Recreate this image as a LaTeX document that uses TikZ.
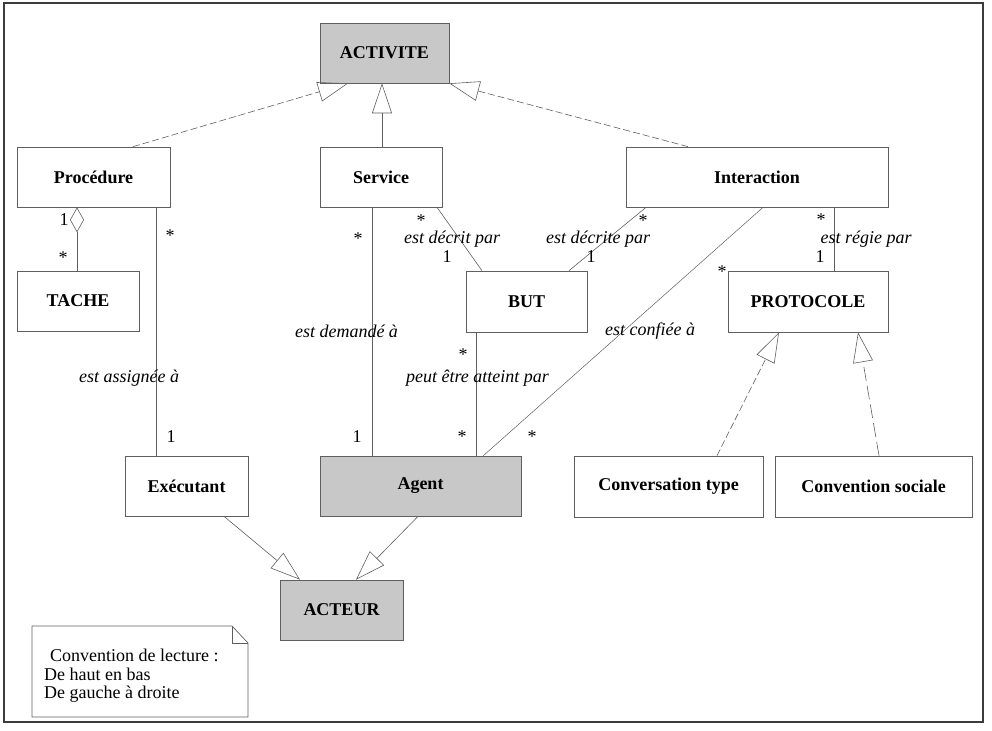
\documentclass[tikz,border=0pt]{standalone}
\usepackage{fontspec}
\setmainfont{Liberation Serif}
\usetikzlibrary{arrows.meta}
\definecolor{clsfill}{RGB}{200,200,200}
\definecolor{linecol}{RGB}{95,95,95}
\definecolor{framecol}{RGB}{60,60,60}

\begin{document}
\begin{tikzpicture}[x=1pt,y=-1pt,
  cls/.style={draw=linecol, line width=0.7pt, inner sep=0pt,
              font=\fontsize{18}{20}\selectfont\bfseries},
  abstract/.style={cls, fill=clsfill},
  role/.style={inner sep=0pt, font=\fontsize{18}{20}\selectfont\itshape},
  mult/.style={inner sep=0pt, font=\fontsize{18}{20}\selectfont},
  assoc/.style={draw=linecol, line width=0.6pt},
  inherit/.style={assoc, -{Triangle[open, length=30pt, width=20pt]}},
  realize/.style={inherit, dash pattern=on 7pt off 3pt},
  realizelong/.style={inherit, dash pattern=on 14pt off 5pt},
  aggreg/.style={assoc, -{Diamond[open, length=25pt, width=14pt]}},
]
\useasboundingbox (0,0) rectangle (992,730);
\draw[framecol, line width=1.5pt] (4,3) rectangle (983,722);

% classes
\node[abstract, minimum width=129pt, minimum height=60pt] (act) at (384.5,53) {ACTIVITE};
\node[cls, minimum width=153pt, minimum height=60pt] (proc) at (93.5,177) {Procédure};
\node[cls, minimum width=122pt, minimum height=60pt] (serv) at (381,177) {Service};
\node[cls, minimum width=262pt, minimum height=60pt] (inter) at (757,177) {Interaction};
\node[cls, minimum width=122pt, minimum height=60pt] (tache) at (78,301) {TACHE};
\node[cls, minimum width=121pt, minimum height=61pt] (but) at (526.5,301.5) {BUT};
\node[cls, minimum width=160pt, minimum height=61pt] (proto) at (808,301.5) {PROTOCOLE};
\node[cls, minimum width=123pt, minimum height=60pt] (exe) at (186.5,486) {Exécutant};
\node[abstract, minimum width=201pt, minimum height=60pt] (agent) at (420.5,486) {Agent};
\node[cls, minimum width=189pt, minimum height=61pt] (convt) at (668.5,486.5) {Conversation type};
\node[cls, minimum width=197pt, minimum height=61pt] (convs) at (873.5,486.5) {Convention sociale};
\node[abstract, minimum width=123pt, minimum height=60pt] (acteur) at (341.5,610) {ACTEUR};

% generalisations towards ACTIVITE
\draw[realize] ([xshift=39.5pt]proc.north) -- ([xshift=-36.5pt]act.south);
\draw[inherit] ([xshift=1pt]serv.north) -- ([xshift=1pt]serv.north |- act.south);
\draw[realize] ([xshift=-69pt]inter.north) -- (act.south east);

% generalisations towards ACTEUR
\draw[inherit] ([xshift=37.5pt]exe.south) -- ([xshift=-41.5pt]acteur.north);
\draw[inherit] ([xshift=-2.5pt]agent.south) -- ([xshift=14.5pt]acteur.north);

% generalisations towards PROTOCOLE
\draw[realize] ([xshift=48.5pt]convt.north) -- ([xshift=-29pt]proto.south);
\draw[realizelong] ([xshift=5.5pt]convs.north) -- ([xshift=50pt]proto.south);

% aggregation Procedure - TACHE
\draw[aggreg] ([xshift=-1pt]tache.north) -- ([xshift=-1pt]tache.north |- proc.south);
\node[mult] (m1) at (64,220) {1};
\node[mult] (m2) at (63,258) {*};

% associations
\draw[assoc] ([xshift=-30.5pt]exe.north) -- ([xshift=-30.5pt]exe.north |- proc.south);
\node[mult] (m3) at (170,236) {*};
\node[role] (r1) at (129,378) {est assignée à};
\node[mult] (m4) at (171,437) {1};

\draw[assoc] ([xshift=-48.5pt]agent.north) -- ([xshift=-48.5pt]agent.north |- serv.south);
\node[mult] (m5) at (358,239) {*};
\node[role] (r2) at (346.5,331) {est demandé à};
\node[mult] (m6) at (357,437) {1};

\draw[assoc] ([xshift=56pt]serv.south) -- ([xshift=-44.5pt]but.north);
\node[mult] (m7) at (421,221) {*};
\node[role] (r3) at (452,239) {est décrit par};
\node[mult] (m8) at (447,257) {1};

\draw[assoc] ([xshift=-111pt]inter.south) -- ([xshift=42.5pt]but.north);
\node[mult] (m9) at (643,221) {*};
\node[role] (r4) at (598,239) {est décrite par};
\node[mult] (m10) at (591,257) {1};

\draw[assoc] ([xshift=26pt]proto.north) -- ([xshift=26pt]proto.north |- inter.south);
\node[mult] (m11) at (821,220) {*};
\node[role] (r5) at (866,239) {est régie par};
\node[mult] (m12) at (820,257) {1};

\draw[assoc] ([xshift=55.5pt]agent.north) -- ([xshift=55.5pt]agent.north |- but.south);
\node[mult] (m13) at (463,355) {*};
\node[role] (r6) at (477.5,378) {peut être atteint par};
\node[mult] (m14) at (462,437) {*};

\draw[assoc, line width=0.5pt] ([xshift=6pt]inter.south) -- ([xshift=-38pt]agent.north east);
\node[mult] (m15) at (722,272) {*};
\node[role] (r7) at (650,331) {est confiée à};
\node[mult] (m16) at (532,437) {*};

% reading note
\draw[draw=linecol, line width=0.7pt] (32,626) -- (232,626) -- (248,643) -- (248,717) -- (32,717) -- cycle;
\draw[draw=linecol, line width=0.7pt] (232,626) -- (232,643) -- (248,643);
\node[inner sep=0pt, anchor=west, font=\fontsize{18}{20}\selectfont] (n1) at (50,655) {Convention de lecture :};
\node[inner sep=0pt, anchor=west, font=\fontsize{18}{20}\selectfont] (n2) at (44,674) {De haut en bas};
\node[inner sep=0pt, anchor=west, font=\fontsize{18}{20}\selectfont] (n3) at (44,694) {De gauche à droite};
\end{tikzpicture}
\end{document}
